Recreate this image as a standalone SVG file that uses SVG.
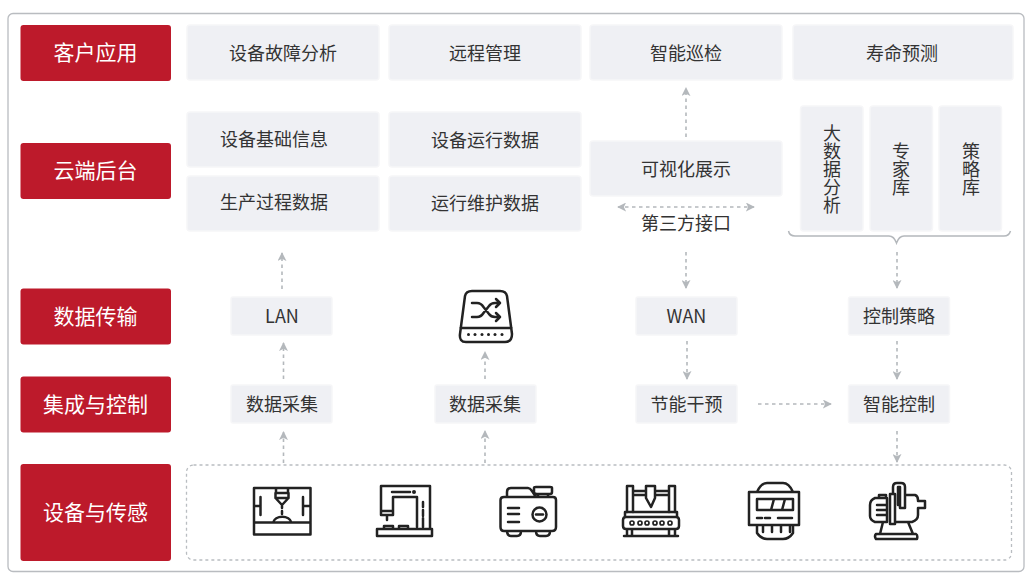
<svg xmlns="http://www.w3.org/2000/svg" width="1029" height="577" viewBox="0 0 1029 577">
<style>
text{font-family:"Noto Sans CJK SC","Liberation Sans",sans-serif;text-anchor:middle;dominant-baseline:central}
.h{fill:#bd1a2b}
.h+text{fill:#fff;font-size:21px}
.b{fill:#eff0f4;stroke:#f6f6f8;stroke-width:1.5}
.t{fill:#333;font-size:18px}
.v{writing-mode:vertical-rl}
.c{fill:none;stroke:#b4b8bc;stroke-width:1.6;stroke-dasharray:3.5 3.5}
.i{fill:none;stroke:#222;stroke-width:2.5;stroke-linejoin:round;stroke-linecap:round}
.d{fill:#222;stroke:none}
</style>
<defs>
<marker id="a" viewBox="0 0 10 10" refX="9" refY="5" markerWidth="9" markerHeight="9" markerUnits="userSpaceOnUse" orient="auto-start-reverse"><path d="M0 0L10 5L0 10L2.500 5Z" fill="#b4b8bc"/></marker>
</defs>
<rect width="1029" height="577" fill="#fff"/>
<rect x="8" y="13.500" width="1016" height="558" rx="5" fill="#fff" stroke="#b9bcc0" stroke-width="1.300"/>

<g id="row-client"><rect class="h" x="20.500" y="25" width="150.500" height="56" rx="3"/><text x="95.500" y="50.500">客户应用</text></g>
<g id="row-cloud"><rect class="h" x="20.500" y="143" width="150.500" height="56" rx="3"/><text x="95.500" y="168.500">云端后台</text></g>
<g id="row-transfer"><rect class="h" x="20.500" y="288.500" width="150.500" height="56" rx="3"/><text x="95.500" y="314.500">数据传输</text></g>
<g id="row-control"><rect class="h" x="20.500" y="376.500" width="150.500" height="56" rx="3"/><text x="95.500" y="402.500">集成与控制</text></g>
<g id="row-device"><rect class="h" x="20.500" y="464" width="150.500" height="97" rx="3"/><text x="95.500" y="510.500">设备与传感</text></g>

<g id="n1"><rect class="b" x="187" y="25" width="192" height="55" rx="3"/><text class="t" x="283" y="52">设备故障分析</text></g>
<g id="n2"><rect class="b" x="389" y="25" width="192" height="55" rx="3"/><text class="t" x="485" y="52">远程管理</text></g>
<g id="n3"><rect class="b" x="590" y="25" width="192" height="55" rx="3"/><text class="t" x="686" y="52">智能巡检</text></g>
<g id="n4"><rect class="b" x="793" y="25" width="220" height="55" rx="3"/><text class="t" x="902" y="52">寿命预测</text></g>
<g id="n5"><rect class="b" x="187" y="112" width="192" height="55" rx="3"/><text class="t" x="274" y="137.500">设备基础信息</text></g>
<g id="n6"><rect class="b" x="389" y="112" width="192" height="55" rx="3"/><text class="t" x="485" y="139">设备运行数据</text></g>
<g id="n7"><rect class="b" x="187" y="176" width="192" height="55" rx="3"/><text class="t" x="274" y="201">生产过程数据</text></g>
<g id="n8"><rect class="b" x="389" y="176" width="192" height="55" rx="3"/><text class="t" x="485" y="202">运行维护数据</text></g>
<g id="n9"><rect class="b" x="590" y="141" width="192" height="55" rx="3"/><text class="t" x="686" y="168">可视化展示</text></g>
<g id="n10"><text class="t" x="686" y="222">第三方接口</text></g>
<g id="n11"><rect class="b" x="800.500" y="106" width="62.500" height="125" rx="3"/><text class="t v" x="832" y="169">大数据分析</text></g>
<g id="n12"><rect class="b" x="870" y="106" width="62.500" height="125" rx="3"/><text class="t v" x="901" y="169">专家库</text></g>
<g id="n13"><rect class="b" x="939" y="106" width="62.500" height="125" rx="3"/><text class="t v" x="971" y="169">策略库</text></g>
<g id="n14"><rect class="b" x="231" y="297" width="101" height="38" rx="2"/><text class="t" x="282" y="315">LAN</text></g>
<g id="n15"><rect class="b" x="636" y="297" width="101" height="38" rx="2"/><text class="t" x="686.500" y="315">WAN</text></g>
<g id="n16"><rect class="b" x="848.500" y="297" width="101" height="38" rx="2"/><text class="t" x="899" y="315">控制策略</text></g>
<g id="n17"><rect class="b" x="231" y="385" width="101" height="38" rx="2"/><text class="t" x="282" y="403">数据采集</text></g>
<g id="n18"><rect class="b" x="435" y="385" width="101" height="38" rx="2"/><text class="t" x="485" y="403">数据采集</text></g>
<g id="n19"><rect class="b" x="636" y="385" width="101" height="38" rx="2"/><text class="t" x="686.500" y="403">节能干预</text></g>
<g id="n20"><rect class="b" x="848.500" y="385" width="101" height="38" rx="2"/><text class="t" x="899" y="403">智能控制</text></g>
<g id="n21"><rect x="186.500" y="465" width="825" height="95" rx="7" fill="none" stroke="#b9bdc1" stroke-width="1.300" stroke-dasharray="3 3"/></g>

<g id="connectors">
<path class="c" d="M282 289V253" marker-end="url(#a)"/>
<path class="c" d="M283.500 379V343" marker-end="url(#a)"/>
<path class="c" d="M283.500 463V432" marker-end="url(#a)"/>
<path class="c" d="M485 379V352" marker-end="url(#a)"/>
<path class="c" d="M485 463V431" marker-end="url(#a)"/>
<path class="c" d="M686 137V88" marker-end="url(#a)"/>
<path class="c" d="M618 207H754" marker-start="url(#a)" marker-end="url(#a)"/>
<path class="c" d="M686 252V288" marker-end="url(#a)"/>
<path class="c" d="M687 341V379" marker-end="url(#a)"/>
<path class="c" d="M758 404H831" marker-end="url(#a)"/>
<path class="c" d="M897 252V288" marker-end="url(#a)"/>
<path class="c" d="M897 341V379" marker-end="url(#a)"/>
<path class="c" d="M897 431V462" marker-end="url(#a)"/>
<path d="M788.500 231Q789.500 236 795 236H889Q894 236 896.500 243Q899 236 904 236H1004Q1009 236 1010.500 231" fill="none" stroke="#b4b8bc" stroke-width="1.500"/>
</g>

<g id="icon-switch">
<path class="i" d="M460 334L465 296Q466 291 472 291H500Q506 291 507 296L512 334Q512 342 505 342H466Q459 342 460 334ZM460.500 328H511.500"/>
<path class="i" d="M472 303H477Q481 303 483.500 307L489 314Q491 317 495 317H500M472 317H477Q481 317 483.500 313L489 306Q491 303 495 303H500M496 299L500 303L496 307M496 313L500 317L496 321"/>
<g class="d"><circle cx="468.500" cy="334.500" r="1.500"/><circle cx="475" cy="334.500" r="1.500"/><circle cx="482" cy="334.500" r="1.500"/><circle cx="488.500" cy="334.500" r="1.500"/><circle cx="495" cy="334.500" r="1.500"/><circle cx="502" cy="334.500" r="1.500"/></g>
</g>
<g id="icon-1">
<path class="i" d="M254 488H310.500V534.500H254ZM254 522.500H310.500M273 522.500A9.500 7.500 0 0 1 291.500 522.500M260.500 497V515M303 497V515M254 506H260.500M303 506H310.500"/>
<path class="i" d="M276 489V493H288V489M275.500 493V498L282 505L288.500 498V493M275.500 498H288.500M282 505V508M282 511V514"/>
</g>
<g id="icon-2">
<path class="i" d="M381 511V486H430V529M393 511V497H417V527M392 492H410M381 511H393V515H381ZM384 515H390M387 515V520M377 536H432V529H377ZM384 529V526H393V529M399 529V526H408V529M423 502V507M423 510V516M423 518V527"/>
<circle class="d" cx="414" cy="492" r="2"/>
</g>
<g id="icon-3">
<path class="i" d="M504 497H553Q556 497 556 500V527Q556 531 552 531H504Q500.500 531 500.500 527V500Q500.500 497 504 497ZM507 497V492Q507 488 511 488H528Q530 488 532 491L536 497M534 488V492Q534 494 537 494H550Q552 494 552 492V488Q552 487 550 487H536Q534 487 534 488ZM538 497V494M548 497V494M507 531Q507 536 511 536H517Q521 536 521 531M536 531Q536 536 540 536H546Q550 536 550 531M508 508H519M508 514H519M508 522H519"/>
<circle class="i" cx="539.500" cy="514.500" r="7"/><path class="i" d="M536 514.500H543"/>
</g>
<g id="icon-4">
<path class="i" d="M627 512V486H633V512M669 512V486H675V512M633 491H646M655 491H669M633 495H646M655 495H669M646 486H655V498L651 507L646 498Z"/>
<path class="i" d="M625 512H677V517H625ZM626 517H676Q679 517 679 520V526Q679 529 676 529H626Q623 529 623 526V520Q623 517 626 517ZM627 529V536M632 529V536M669 529V536M675 529V536M624 536H678"/>
<g class="i" style="stroke-width:1.700"><circle cx="632" cy="523" r="2"/><circle cx="640" cy="523" r="2"/><circle cx="647" cy="523" r="2"/><circle cx="655" cy="523" r="2"/><circle cx="662" cy="523" r="2"/><circle cx="670" cy="523" r="2"/></g>
</g>
<g id="icon-5">
<path class="i" d="M749 492H799V525H749ZM757 492Q761 483 767 483H783Q789 483 793 492M757 525V533Q761 539 767 539H783Q789 539 793 533V525M757 499H793V510H757ZM774 499L771 510M785 499L782 510M757 518H762M765 518H770M778 518H792M763 525V532M772 525V532M781 525V532M790 525V532"/>
</g>
<g id="icon-6">
<path class="i" d="M887 498H875Q870 500 870 505V516Q870 520 875 522H887V498ZM877 505H887M877 510H887M877 515H887M879 498V495H886V498M890 524V494H895V524H890ZM893 494V487Q893 483 897 483H901Q905 483 905 487V508H900V487H898V505M905 495H915Q918 496 918 500V501H925V508H918V515Q918 520 912 522H895M883 522L880 534M908 522L913 534M876 534H916Q918 535 917 539H876Q874 536 876 534Z"/>
</g>
</svg>
